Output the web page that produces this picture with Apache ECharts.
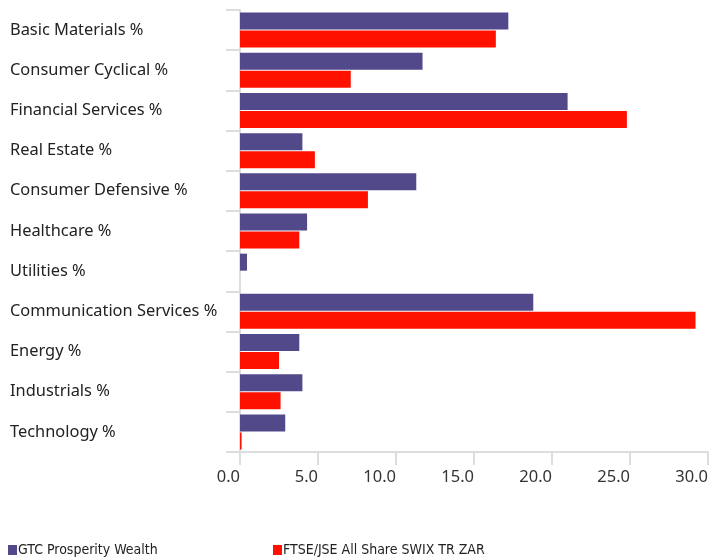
<!DOCTYPE html>
<html>
<head>
<meta charset="utf-8">
<script src="https://cdn.jsdelivr.net/npm/echarts@6/dist/echarts.min.js"></script>
<style>
  html, body { margin: 0; padding: 0; background: #fff; }
  #chart { width: 711px; height: 557px; }
</style>
</head>
<body>
<div id="chart"></div>
<script>
// sector weights, % of portfolio
const sectors = [
  'Basic Materials %', 'Consumer Cyclical %', 'Financial Services %', 'Real Estate %',
  'Consumer Defensive %', 'Healthcare %', 'Utilities %', 'Communication Services %',
  'Energy %', 'Industrials %', 'Technology %'
];
const gtcWeights  = [17.2, 11.7, 21.0, 4.0, 11.3, 4.3, 0.45, 18.8, 3.8, 4.0, 2.9];
const swixWeights = [16.4, 7.1, 24.8, 4.8, 8.2, 3.8, 0, 29.2, 2.5, 2.6, 0.1];
const xTicks = [0, 5, 10, 15, 20, 25, 30];

const BLUE = '#52498a';
const RED = '#ff1100';
const AXIS = '#dddddd';
const labelFont = 'Noto Sans, sans-serif';
const legendFont = 'Liberation Sans Narrow, DejaVu Sans Condensed, sans-serif';

const chart = echarts.init(document.getElementById('chart'), null, { renderer: 'canvas' });
chart.setOption({
  animation: false,
  backgroundColor: '#fff',
  grid: { left: 240, right: 1, top: 10, bottom: 105 },
  legend: [
    {
      data: ['GTC Prosperity Wealth'],
      left: 3, top: 538,
      icon: 'rect', itemWidth: 9, itemHeight: 10,
      textStyle: { fontFamily: legendFont, fontSize: 14, color: '#222', padding: [0, 0, 0, -4] }
    },
    {
      data: ['FTSE/JSE All Share SWIX TR ZAR'],
      left: 268, top: 538,
      icon: 'rect', itemWidth: 9, itemHeight: 10,
      textStyle: { fontFamily: legendFont, fontSize: 14, color: '#222', padding: [0, 0, 0, -4] }
    }
  ],
  xAxis: {
    type: 'value',
    min: 0, max: 30, interval: 5,
    axisLine: { show: true, lineStyle: { color: AXIS, width: 2 } },
    axisTick: { show: true, length: 13, lineStyle: { color: AXIS, width: 2 } },
    splitLine: { show: false },
    axisLabel: {
      color: '#333', fontFamily: labelFont, fontSize: 16.5, margin: 17, align: 'right',
      formatter: function (v) { return xTicks.indexOf(v) >= 0 ? v.toFixed(1) : ''; }
    }
  },
  yAxis: {
    type: 'category',
    inverse: true,
    data: sectors,
    axisLine: { show: true, lineStyle: { color: AXIS, width: 2 } },
    axisTick: { show: true, length: 14, lineStyle: { color: AXIS, width: 2 } },
    axisLabel: { color: '#222', fontFamily: labelFont, fontSize: 16.4, align: 'left', margin: 230 }
  },
  series: [
    { name: 'GTC Prosperity Wealth', type: 'bar', data: gtcWeights, barWidth: 17, barGap: '6%', itemStyle: { color: BLUE } },
    { name: 'FTSE/JSE All Share SWIX TR ZAR', type: 'bar', data: swixWeights, barWidth: 17, itemStyle: { color: RED } }
  ]
});
</script>
</body>
</html>
